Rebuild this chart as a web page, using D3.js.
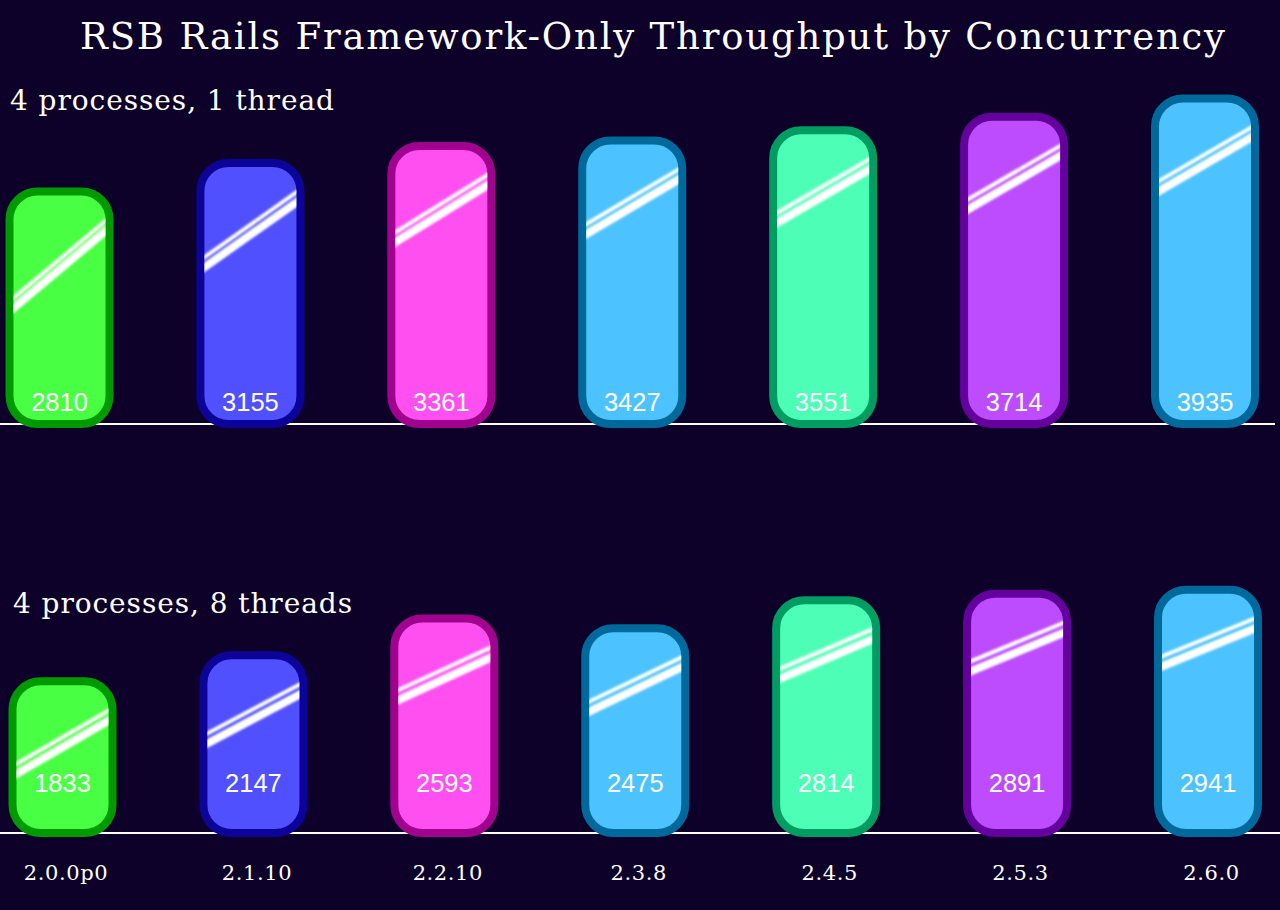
<!DOCTYPE html>
<meta charset="utf-8">
<style>

body {
  margin: 0;
  background: #0d0029;
}

svg {
  display: block;
}

.serif {
  font-family: 'DejaVu Serif', serif;
  fill: #fff;
}

.value {
  font-family: 'Liberation Sans', Arial, sans-serif;
  font-size: 25.5px;
  fill: #fff;
  text-anchor: middle;
}

</style>
<svg width="1280" height="910"></svg>
<script src="https://d3js.org/d3.v7.min.js"></script>
<script>

let versions = ['2.0.0p0', '2.1.10', '2.2.10', '2.3.8', '2.4.5', '2.5.3', '2.6.0'];
let oneThread = [2810, 3155, 3361, 3427, 3551, 3714, 3935];
let eightThreads = [1833, 2147, 2593, 2475, 2814, 2891, 2941];

let fills = ['#48ff44', '#5050ff', '#ff4ff0', '#4cc3ff', '#4dffb6', '#bd4cff', '#4cc3ff'];
let strokes = ['#009a00', '#0c0498', '#a0048e', '#00699c', '#009c62', '#64009c', '#00699c'];

let svg = d3.select('svg');
let width = +svg.attr('width');

let defs = svg.append('defs');
defs.append('filter')
    .attr('id', 'soft')
    .attr('x', '-10%').attr('y', '-50%')
    .attr('width', '120%').attr('height', '200%')
  .append('feGaussianBlur')
    .attr('stdDeviation', 1);

// title
svg.append('text')
    .attr('class', 'serif')
    .attr('x', 80)
    .attr('y', 49)
    .attr('font-size', 37)
    .attr('textLength', 1145)
    .attr('lengthAdjust', 'spacing')
    .text('RSB Rails Framework-Only Throughput by Concurrency');

let panels = [
  {
    key: 'p1', values: oneThread, label: '4 processes, 1 thread',
    labelX: 10, labelY: 110, labelLen: 324,
    xRange: [59.5, 1205], base: 424, valueY: 411,
    dy: d3.scaleLinear([239, 290], [78, 54]).clamp(true)
  },
  {
    key: 'p2', values: eightThreads, label: '4 processes, 8 threads',
    labelX: 13, labelY: 613, labelLen: 339,
    xRange: [62.5, 1208], base: 833, valueY: 792,
    dy: d3.scaleLinear([155, 247], [54, 38]).clamp(true)
  }
];

let barW = 100;
let stroke = 8;

panels.forEach(p => {

  let x = d3.scalePoint().domain(versions).range(p.xRange);
  let y = d3.scaleLinear().domain([0, 4000]).range([p.base, p.base - 331]);

  let data = versions.map((v, i) => ({ v: v, value: p.values[i], i: i }));

  svg.append('text')
      .attr('class', 'serif')
      .attr('x', p.labelX)
      .attr('y', p.labelY)
      .attr('font-size', 28)
      .attr('textLength', p.labelLen)
      .attr('lengthAdjust', 'spacing')
      .text(p.label);

  // baseline
  svg.append('line')
      .attr('x1', 0)
      .attr('x2', p.key == 'p1' ? 1275 : width)
      .attr('y1', p.base)
      .attr('y2', p.base)
      .attr('stroke', '#fff')
      .attr('stroke-width', 2);

  let bars = svg.selectAll('g.bar-' + p.key)
    .data(data)
    .enter().append('g')
      .attr('class', 'bar-' + p.key);

  // clip for the glare = inner area of the bar
  bars.each(function(d) {
    defs.append('clipPath')
        .attr('id', 'clip-' + p.key + '-' + d.i)
      .append('rect')
        .attr('x', x(d.v) - barW / 2 + stroke / 2)
        .attr('y', y(d.value) + stroke / 2)
        .attr('width', barW - stroke)
        .attr('height', y(0) - y(d.value) - stroke)
        .attr('rx', 24);
  });

  bars.append('rect')
      .attr('x', d => x(d.v) - barW / 2)
      .attr('y', d => y(d.value))
      .attr('width', barW)
      .attr('height', d => y(0) - y(d.value))
      .attr('rx', 28)
      .attr('fill', d => fills[d.i])
      .attr('stroke', d => strokes[d.i])
      .attr('stroke-width', stroke);

  // the diagonal shine, a thin and a thick stripe
  let glare = bars.append('g')
      .attr('clip-path', d => 'url(#clip-' + p.key + '-' + d.i + ')')
    .append('g')
      .attr('filter', 'url(#soft)');

  let stripes = [{ off: -7, w: 4 }, { off: 3, w: 8 }];
  stripes.forEach(s => {
    glare.append('line')
        .attr('x1', d => x(d.v) - barW / 2 - 4)
        .attr('x2', d => x(d.v) + barW / 2 + 4)
        .attr('y1', d => {
          let h = y(0) - y(d.value) + stroke / 2;
          let yr = y(d.value) - stroke / 2 + 40 + s.off;
          return yr + p.dy(h) * 1.08;
        })
        .attr('y2', d => {
          let h = y(0) - y(d.value) + stroke / 2;
          let yr = y(d.value) - stroke / 2 + 40 + s.off;
          return yr - p.dy(h) * 0.08;
        })
        .attr('stroke', '#fff')
        .attr('stroke-width', s.w);
  });

  bars.append('text')
      .attr('class', 'value')
      .attr('x', d => x(d.v))
      .attr('y', p.valueY)
      .text(d => d.value);

  if (p.key == 'p2') {
    let axis = svg.append('g')
        .attr('transform', 'translate(3,' + 880 + ')')
        .call(d3.axisBottom(x).tickSize(0).tickPadding(0));
    axis.select('.domain').remove();
    axis.selectAll('text')
        .attr('class', 'serif')
        .attr('dy', 0)
        .attr('font-size', 21)
        .attr('letter-spacing', 0.6)
        .style('fill', '#fff');
  }
});

</script>
